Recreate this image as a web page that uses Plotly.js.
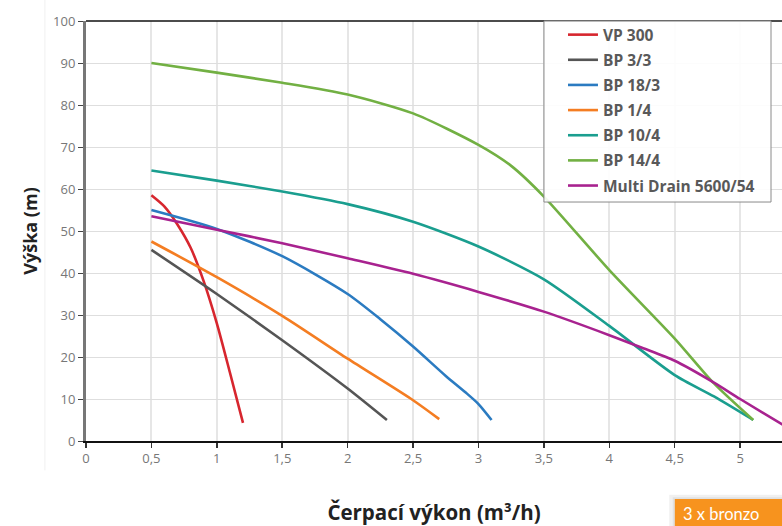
<!DOCTYPE html>
<html>
<head>
<meta charset="utf-8">
<script src="https://cdn.plot.ly/plotly-3.0.1.min.js"></script>
<style>html,body{margin:0;padding:0;background:#fff;overflow:hidden}#chart{width:782px;height:526px}</style>
</head>
<body>
<div id="chart"></div>
<script>
var seriesNames = ["VP 300", "BP 3/3", "BP 18/3", "BP 1/4", "BP 10/4", "BP 14/4", "Multi Drain 5600/54"];
var seriesColors = ["#d7262e", "#555555", "#2b7bc1", "#f47d22", "#1a9e8f", "#72b043", "#a8228f"];

var vp300X = [0.5, 0.6, 0.7, 0.8, 0.9, 1.0, 1.1, 1.2];
var vp300Y = [58.5, 55.8, 51.5, 46, 38, 28, 16.3, 4.3];

var bp33X = [0.5, 1, 1.5, 2, 2.3];
var bp33Y = [45.5, 35, 24, 12.5, 5];

var bp183X = [0.5, 1, 1.5, 2, 2.25, 2.5, 2.75, 2.9, 3, 3.1];
var bp183Y = [55, 50.5, 44, 35, 29, 22.5, 15.5, 11.6, 8.8, 5];

var bp14X = [0.5, 1, 1.5, 2, 2.5, 2.7];
var bp14Y = [47.5, 39, 29.8, 19.6, 9.7, 5.2];

var bp104X = [0.5, 1, 1.5, 2, 2.5, 3, 3.5, 4, 4.5, 4.8, 5.1];
var bp104Y = [64.4, 62, 59.4, 56.4, 52.2, 46.3, 38.5, 27.4, 15.7, 10.6, 5];

var bp144X = [0.5, 1, 1.5, 2, 2.5, 3, 3.25, 3.5, 4, 4.5, 4.8, 5.1];
var bp144Y = [90, 87.7, 85.3, 82.5, 78, 70.5, 65.5, 58.2, 40.7, 24.4, 13.7, 5];

var mdX = [0.5, 1, 1.5, 2, 2.5, 3, 3.5, 4, 4.25, 4.5, 4.8, 5, 5.35];
var mdY = [53.5, 50.3, 47.1, 43.5, 39.8, 35.5, 30.8, 25.2, 22.2, 19.1, 13.9, 10, 3.4];

var xTickVals = [0, 0.5, 1, 1.5, 2, 2.5, 3, 3.5, 4, 4.5, 5];
var xTickText = ["0", "0,5", "1", "1,5", "2", "2,5", "3", "3,5", "4", "4,5", "5"];

var allX = [vp300X, bp33X, bp183X, bp14X, bp104X, bp144X, mdX];
var allY = [vp300Y, bp33Y, bp183Y, bp14Y, bp104Y, bp144Y, mdY];

var traces = seriesNames.map(function (n, i) {
  return {
    x: allX[i], y: allY[i], name: n, type: "scatter", mode: "lines",
    legendgroup: "g" + i,
    line: {color: seriesColors[i], width: 2.6, shape: "spline", smoothing: 0.7},
    hoverinfo: "skip"
  };
});

var layout = {
  width: 782, height: 526,
  margin: {l: 86, r: 0, t: 21, b: 85},
  paper_bgcolor: "#ffffff", plot_bgcolor: "#ffffff",
  font: {family: "Open Sans, sans-serif", color: "#777"},
  showlegend: true,
  legend: {
    x: 0.6853, y: 1.007, xanchor: "left", yanchor: "top",
    bgcolor: "rgba(0,0,0,0)", borderwidth: 0,
    font: {family: "Open Sans, sans-serif", size: 15.5, color: "#595959", weight: "bold"},
    traceorder: "grouped", tracegroupgap: 2
  },
  xaxis: {
    range: [0, 5.32], tickvals: xTickVals, ticktext: xTickText,
    showgrid: true, gridcolor: "#e6e6e6", gridwidth: 2,
    zeroline: false, showline: true, linecolor: "#111", linewidth: 1.5,
    ticks: "outside", ticklen: 5, tickcolor: "#333", tickwidth: 1.5,
    tickfont: {size: 13, color: "#777"},
    title: {text: "Čerpací výkon (m³/h)", standoff: 40,
      font: {family: "Open Sans, sans-serif", size: 20.5, color: "#222", weight: "bold"}}
  },
  yaxis: {
    range: [0, 100], dtick: 10,
    showgrid: true, gridcolor: "#dedede", gridwidth: 1,
    zeroline: false, showline: true, linecolor: "#777", linewidth: 3,
    ticks: "outside", ticklen: 5, tickcolor: "#444", tickwidth: 1,
    tickfont: {size: 13, color: "#777"},
    title: {text: "Výška (m)", standoff: 11,
      font: {family: "Open Sans, sans-serif", size: 18, color: "#222", weight: "bold"}}
  },
  shapes: [
    {type: "line", xref: "paper", yref: "paper", x0: 0, x1: 1, y0: 1, y1: 1,
      line: {color: "#111", width: 1.5}},
    {type: "line", xref: "paper", yref: "paper", x0: -0.059, x1: -0.059, y0: 1.06, y1: -0.07,
      line: {color: "#f0f0f0", width: 1}},
    {type: "rect", xref: "paper", yref: "paper", x0: 0.658, x1: 0.9842, y0: 1, y1: 0.569,
      line: {color: "#8a8a8a", width: 1}, fillcolor: "rgba(255,255,255,0.9)", layer: "above"},
    {type: "rect", xref: "paper", yref: "paper", x0: 0.838, x1: 1.02, y0: -0.128, y1: -0.26,
      line: {width: 0}, fillcolor: "rgba(0,0,0,0.06)"},
    {type: "rect", xref: "paper", yref: "paper", x0: 0.843, x1: 1.02, y0: -0.134, y1: -0.26,
      line: {width: 0}, fillcolor: "rgba(0,0,0,0.06)"},
    {type: "rect", xref: "paper", yref: "paper", x0: 0.846, x1: 1.02, y0: -0.138, y1: -0.26,
      line: {width: 0}, fillcolor: "#f7931e"}
  ],
  annotations: [
    {xref: "paper", yref: "paper", x: 0.857, y: -0.174, xanchor: "left", yanchor: "middle",
      text: "3 x bronzo", showarrow: false, borderpad: 0,
      font: {family: "Lato, sans-serif", size: 16.5, color: "#ffffff"}}
  ]
};

Plotly.newPlot("chart", traces, layout, {displayModeBar: false, staticPlot: true});
</script>
</body>
</html>
